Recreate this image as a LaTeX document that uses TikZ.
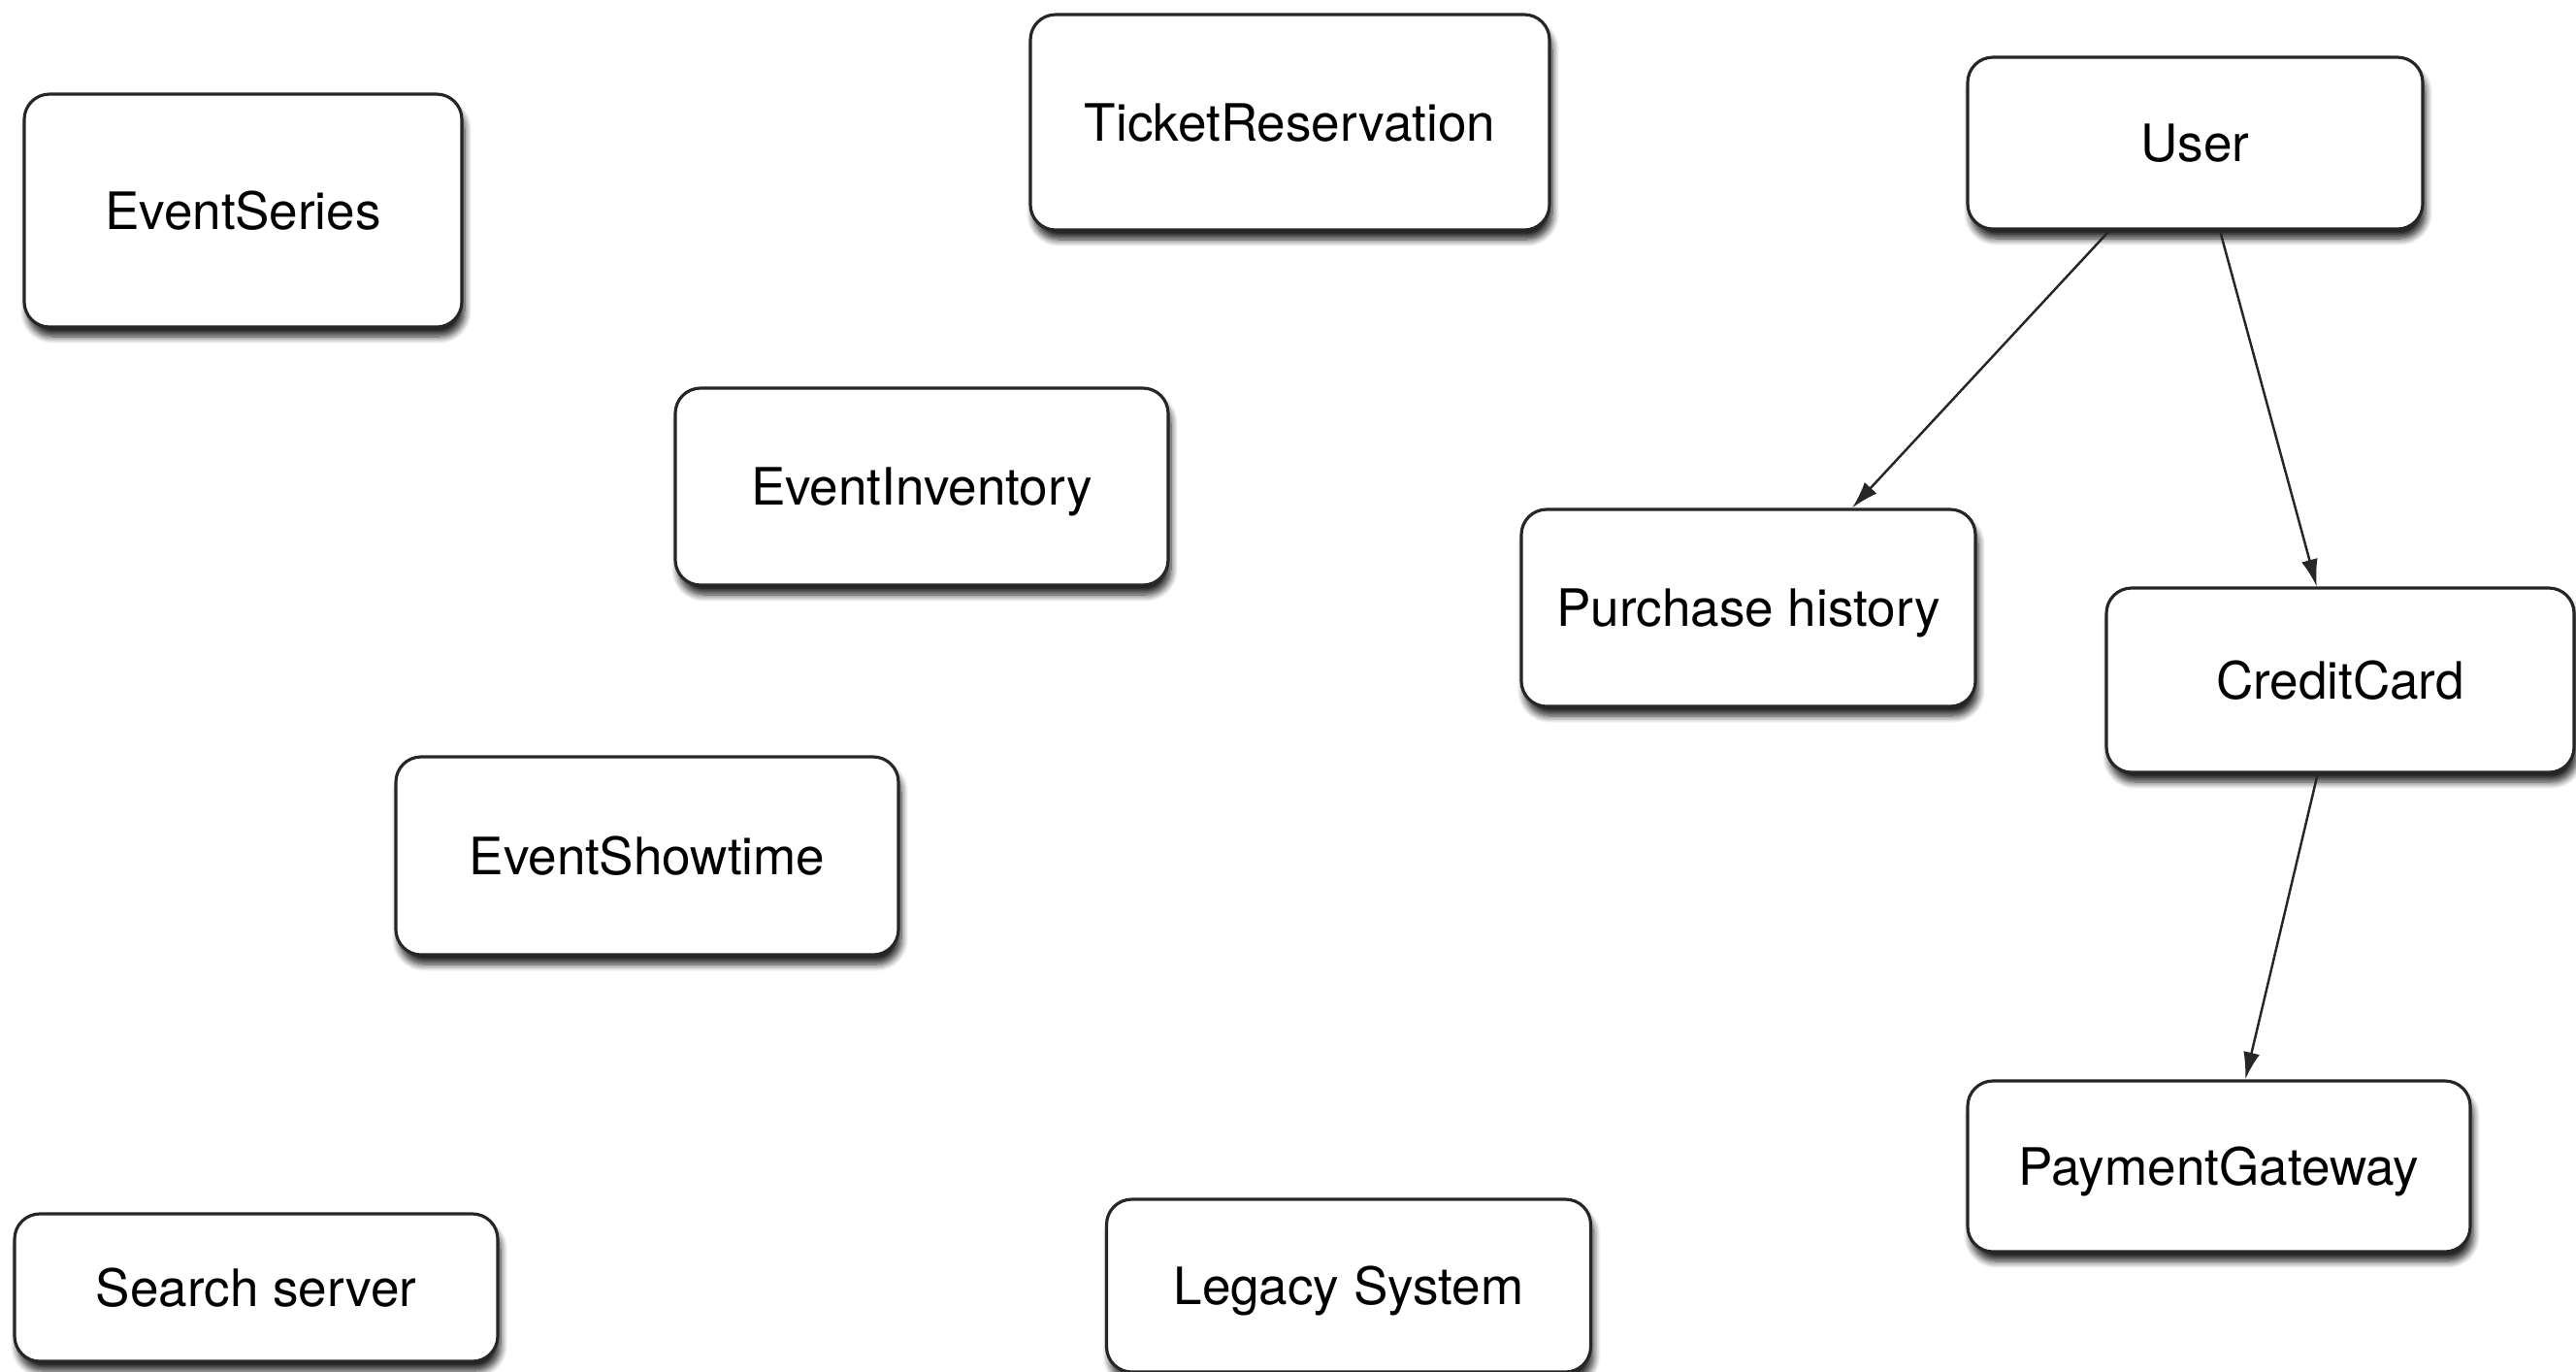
\documentclass[tikz,border=0pt]{standalone}
\usepackage{fontspec}
\setmainfont{TeX Gyre Heros}
\usetikzlibrary{shadows,shadows.blur,arrows.meta,calc}
\tikzset{
  box/.style={draw=black!85, line width=0.9pt, fill=white, rounded corners=0.26cm,
    inner sep=0pt, align=center, text depth=0pt,
    font=\fontsize{15.1}{18}\selectfont,
    blur shadow={shadow xshift=0.03cm, shadow yshift=-0.10cm, shadow blur radius=0.07cm, shadow blur steps=8, shadow opacity=85}},
  link/.style={line width=0.7pt, draw=black!85, -{Latex[length=0.28cm,width=0.17cm]}}
}
\begin{document}
\begin{tikzpicture}
\useasboundingbox (0,0) rectangle (26.55,-14.13);
\clip (0,0) rectangle (26.55,-14.13);
\node[box, minimum width=4.51cm, minimum height=2.40cm] (es) at (2.505,-2.17) {EventSeries};
\node[box, minimum width=5.35cm, minimum height=2.22cm] (tr) at (13.295,-1.26) {TicketReservation};
\node[box, minimum width=4.69cm, minimum height=1.77cm] (user) at (22.625,-1.475) {User};
\node[box, minimum width=5.08cm, minimum height=2.03cm] (ei) at (9.50,-5.015) {EventInventory};
\node[box, minimum width=4.68cm, minimum height=2.03cm] (ph) at (18.02,-6.265) {Purchase history};
\node[box, minimum width=4.82cm, minimum height=1.90cm] (cc) at (24.12,-7.01) {CreditCard};
\node[box, minimum width=5.18cm, minimum height=2.04cm] (est) at (6.67,-8.82) {EventShowtime};
\node[box, minimum width=5.18cm, minimum height=1.76cm] (pg) at (22.87,-12.02) {PaymentGateway};
\node[box, minimum width=4.98cm, minimum height=1.52cm] (ss) at (2.64,-13.27) {Search server};
\node[box, minimum width=4.99cm, minimum height=1.78cm] (ls) at (13.90,-13.25) {Legacy System};
\draw[link] ($(user.south west)!0.313!(user.south east)$) -- ($(ph.north west)!0.727!(ph.north east)$);
\draw[link] ($(user.south west)!0.554!(user.south east)$) -- ($(cc.north west)!0.45!(cc.north east)$);
\draw[link] ($(cc.south west)!0.452!(cc.south east)$) -- ($(pg.north west)!0.552!(pg.north east)$);
\end{tikzpicture}
\end{document}
